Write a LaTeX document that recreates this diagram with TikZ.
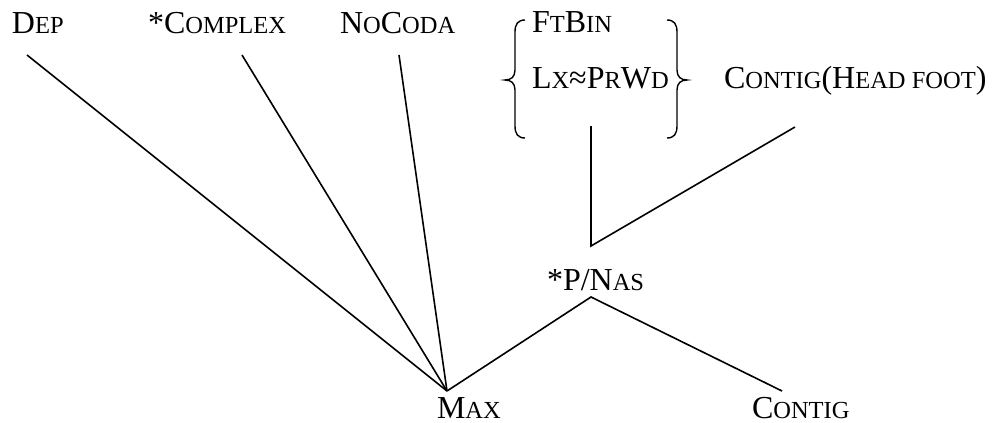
\documentclass[tikz,border=0pt]{standalone}
\usepackage{fontspec}
\setmainfont{Liberation Serif}
% fake small caps: capitals set smaller
\newcommand{\smc}[1]{{\fontsize{24.5}{24.5}\selectfont #1}}
\begin{document}
\begin{tikzpicture}[x=1pt,y=-1pt,inner sep=0pt,outer sep=0pt,line width=1.6pt,
con/.style={anchor=base west,font=\fontsize{32}{32}\selectfont}]
\useasboundingbox (0,0) rectangle (996,423);

% constraint names
\draw (12,33) node[con] (dep) {D\smc{EP}};
\draw (148,33) node[con] (complex) {*C\smc{OMPLEX}};
\draw (340,33) node[con] (nocoda) {N\smc{O}C\smc{ODA}};
\draw (532,32) node[con] (ftbin) {F\smc{T}B\smc{IN}};
\draw (532,88) node[con] (lxprwd) {L\smc{X}≈P\smc{R}W\smc{D}};
\draw (724,88) node[con] (contighf) {C\smc{ONTIG}(H\smc{EAD FOOT})};
\draw (547,290) node[con] (pnas) {*P/N\smc{AS}};
\draw (437,418) node[con] (max) {M\smc{AX}};
\draw (752,418) node[con] (contig) {C\smc{ONTIG}};

% line ends
\coordinate (depfoot) at (27,55);
\coordinate (complexfoot) at (242,55);
\coordinate (nocodafoot) at (399,55);
\coordinate (groupfoot) at (591,126);
\coordinate (contighffoot) at (795,127);
\coordinate (pnastop) at (591,246);
\coordinate (pnasfoot) at (591,297);
\coordinate (maxtop) at (447,391);
\coordinate (contigtop) at (782,391);

% braces round FtBin and Lx=PrWd
\draw[line width=1.4pt] (525,20) .. controls (518,20) and (515,24) .. (515,32) -- (515,70)
  .. controls (515,77) and (511,80) .. (505,80) .. controls (511,80) and (515,83) .. (515,90)
  -- (515,126) .. controls (515,134) and (518,138) .. (525,138);
\draw[line width=1.4pt] (667,20) .. controls (674,20) and (677,24) .. (677,32) -- (677,70)
  .. controls (677,77) and (681,80) .. (687,80) .. controls (681,80) and (677,83) .. (677,90)
  -- (677,126) .. controls (677,134) and (674,138) .. (667,138);

% rankings
\draw (depfoot) -- (maxtop);
\draw (complexfoot) -- (maxtop);
\draw (nocodafoot) -- (maxtop);
\draw (maxtop) -- (pnasfoot) -- (contigtop);
\draw (groupfoot) -- (pnastop) -- (contighffoot);
\end{tikzpicture}
\end{document}
